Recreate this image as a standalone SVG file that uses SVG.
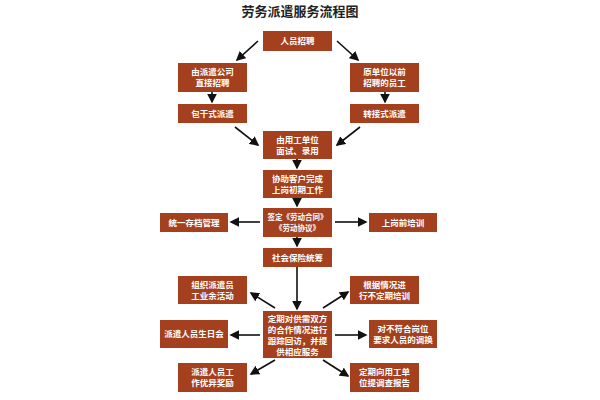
<svg xmlns="http://www.w3.org/2000/svg" width="600" height="400" viewBox="0 0 600 400">
<style>
.b{fill:#a5401e}
.t{fill:#fff;font-family:"Noto Sans CJK SC",sans-serif;font-size:8.5px;font-weight:bold;text-anchor:middle}
.s{font-size:7.5px}
.ti{fill:#222;font-family:"Noto Sans CJK SC",sans-serif;font-size:13px;font-weight:bold;text-anchor:middle}
.c line{stroke:#111;stroke-width:1.6;marker-end:url(#a)}
</style>
<defs><marker id="a" markerWidth="6" markerHeight="6" refX="5" refY="3" orient="auto" markerUnits="strokeWidth"><path d="M0,0L6,3L0,6z" fill="#111"/></marker></defs>
<rect width="600" height="400" fill="#fff"/>
<text class="ti" x="300" y="16">劳务派遣服务流程图</text>
<g class="c">
<line x1="258" y1="41" x2="237" y2="60"/>
<line x1="337" y1="41" x2="358" y2="60"/>
<line x1="212" y1="92" x2="212" y2="102"/>
<line x1="385" y1="92" x2="385" y2="102"/>
<line x1="235" y1="127" x2="258" y2="145"/>
<line x1="360" y1="127" x2="337" y2="145"/>
<line x1="297" y1="159" x2="297" y2="168"/>
<line x1="297" y1="198" x2="297" y2="206"/>
<line x1="260" y1="222" x2="231" y2="222"/>
<line x1="335" y1="222" x2="366" y2="222"/>
<line x1="297" y1="237" x2="297" y2="246"/>
<line x1="297" y1="267" x2="297" y2="309"/>
<line x1="275" y1="308" x2="251" y2="293"/>
<line x1="323" y1="308" x2="348" y2="292"/>
<line x1="260" y1="335" x2="231" y2="335"/>
<line x1="335" y1="335" x2="366" y2="335"/>
<line x1="275" y1="360" x2="251" y2="374"/>
<line x1="323" y1="360" x2="348" y2="376"/>
</g>
<g id="n1"><rect class="b" x="263" y="31" width="69" height="20"/><text class="t" x="297.5" y="44">人员招聘</text></g>
<g id="n2"><rect class="b" x="178" y="63" width="69" height="29"/><text class="t" x="212.5" y="75">由派遣公司</text><text class="t" x="212.5" y="86">直接招聘</text></g>
<g id="n3"><rect class="b" x="350" y="63" width="69" height="29"/><text class="t" x="384.5" y="75">原单位以前</text><text class="t" x="384.5" y="86">招聘的员工</text></g>
<g id="n4"><rect class="b" x="178" y="104" width="69" height="19"/><text class="t" x="212.5" y="116.5">包干式派遣</text></g>
<g id="n5"><rect class="b" x="350" y="104" width="69" height="19"/><text class="t" x="384.5" y="116.5">转接式派遣</text></g>
<g id="n6"><rect class="b" x="263" y="131" width="69" height="28"/><text class="t" x="297.5" y="143">由用工单位</text><text class="t" x="297.5" y="154">面试、录用</text></g>
<g id="n7"><rect class="b" x="263" y="170" width="69" height="28"/><text class="t" x="297.5" y="182">协助客户完成</text><text class="t" x="297.5" y="193">上岗初期工作</text></g>
<g id="n8"><rect class="b" x="263" y="208" width="69" height="29"/><text class="t s" x="297.5" y="220">签定《劳动合同》</text><text class="t s" x="297.5" y="231">《劳动协议》</text></g>
<g id="n9"><rect class="b" x="160" y="213" width="68" height="19"/><text class="t" x="194" y="225.5">统一存档管理</text></g>
<g id="n10"><rect class="b" x="369" y="213" width="68" height="19"/><text class="t" x="403" y="225.5">上岗前培训</text></g>
<g id="n11"><rect class="b" x="263" y="248" width="69" height="19"/><text class="t" x="297.5" y="260.5">社会保险统筹</text></g>
<g id="n12"><rect class="b" x="178" y="276" width="69" height="28"/><text class="t" x="212.5" y="288">组织派遣员</text><text class="t" x="212.5" y="299">工业余活动</text></g>
<g id="n13"><rect class="b" x="350" y="276" width="69" height="28"/><text class="t" x="384.5" y="288">根据情况进</text><text class="t" x="384.5" y="299">行不定期培训</text></g>
<g id="n14"><rect class="b" x="263" y="311" width="69" height="47"/><text class="t" x="297.5" y="322">定期对供需双方</text><text class="t" x="297.5" y="333">的合作情况进行</text><text class="t" x="297.5" y="344">跟踪回访，并提</text><text class="t" x="297.5" y="355">供相应服务</text></g>
<g id="n15"><rect class="b" x="160" y="320" width="68" height="28"/><text class="t" x="194" y="337">派遣人员生日会</text></g>
<g id="n16"><rect class="b" x="369" y="320" width="68" height="28"/><text class="t" x="403" y="332">对不符合岗位</text><text class="t" x="403" y="343">要求人员的调换</text></g>
<g id="n17"><rect class="b" x="178" y="363" width="69" height="29"/><text class="t" x="212.5" y="375">派遣人员工</text><text class="t" x="212.5" y="386">作优异奖励</text></g>
<g id="n18"><rect class="b" x="350" y="363" width="69" height="29"/><text class="t" x="384.5" y="375">定期向用工单</text><text class="t" x="384.5" y="386">位提调查报告</text></g>
</svg>
